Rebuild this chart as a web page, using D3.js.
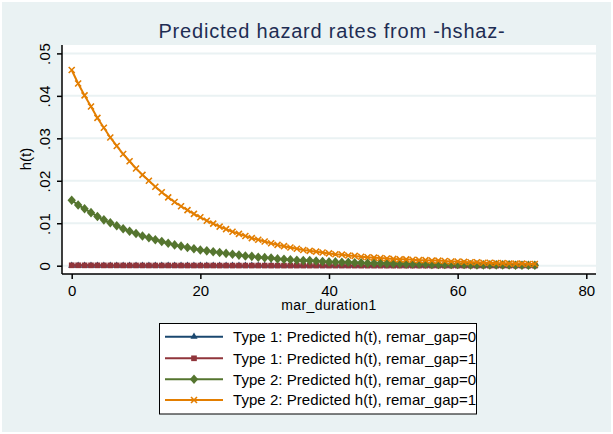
<!DOCTYPE html>
<html><head><meta charset="utf-8">
<script src="https://cdn.jsdelivr.net/npm/d3@7"></script>
<style>html,body{margin:0;padding:0;background:#fff;}svg{display:block;}</style>
</head><body>
<script>
const title = "Predicted hazard rates from -hshaz-";
const xTitle = "mar_duration1";
const yTitle = "h(t)";
const xTicks = [0, 20, 40, 60, 80];
const yTicks = [0, 0.01, 0.02, 0.03, 0.04, 0.05];
const yTickLabels = ["0", ".01", ".02", ".03", ".04", ".05"];
const durations = d3.range(0, 73);
const seriesNames = [
  "Type 1: Predicted h(t), remar_gap=0",
  "Type 1: Predicted h(t), remar_gap=1",
  "Type 2: Predicted h(t), remar_gap=0",
  "Type 2: Predicted h(t), remar_gap=1"
];
const type1Gap0 = [
 .00003,.00003,.00003,.00003,.00003,.00003,.00003,.00003,.00003,.00003,
 .00002,.00002,.00002,.00002,.00002,.00002,.00002,.00002,.00002,.00002,
 .00002,.00002,.00002,.00002,.00002,.00001,.00001,.00001,.00001,.00001,
 .00001,.00001,.00001,.00001,.00001,.00001,.00001,.00001,.00001,.00001,
 .00001,.00001,.00001,.00001,.00001,.00001,.00001,.00001,.00001,.00001,
 .00001,.00001,.00001,.00001,.00001,.00001,.00001,.00001,.00001,.00001,
 .00001,.00001,.00001,.00001,.00001,.00001,.00001,.00001,.00001,.00001,
 .00001,.00001,.00001];
const type1Gap1 = [
 .00009,.00009,.00008,.00008,.00008,.00007,.00007,.00007,.00006,.00006,
 .00006,.00006,.00005,.00005,.00005,.00005,.00005,.00004,.00004,.00004,
 .00004,.00004,.00004,.00003,.00003,.00003,.00003,.00003,.00003,.00003,
 .00003,.00002,.00002,.00002,.00002,.00002,.00002,.00002,.00002,.00002,
 .00002,.00002,.00002,.00002,.00002,.00001,.00001,.00001,.00001,.00001,
 .00001,.00001,.00001,.00001,.00001,.00001,.00001,.00001,.00001,.00001,
 .00001,.00001,.00001,.00001,.00001,.00001,.00001,.00001,.00001,.00001,
 .00001,.00001,.00001];
const type2Gap0 = [
 .0154,.0143,.0134,.0125,.0116,.0108,.0101,.0094,.0087,.0081,
 .0076,.0070,.0066,.0061,.0057,.0053,.0049,.0046,.0043,.0040,
 .0037,.0035,.0033,.0031,.0029,.0027,.0025,.0023,.0022,.0020,
 .0019,.0018,.0016,.0015,.0014,.0013,.0012,.0012,.0011,.0010,
 .0009,.0009,.0008,.0008,.0007,.0007,.0006,.0006,.0006,.0005,
 .0005,.0005,.0004,.0004,.0004,.0004,.0003,.0003,.0003,.0003,
 .0003,.0003,.0002,.0002,.0002,.0002,.0002,.0002,.0002,.0001,
 .0001,.0001,.0001];
const type2Gap1 = [
 .0461,.0429,.0401,.0375,.0348,.0325,.0302,.0282,.0263,.0246,
 .0229,.0214,.0200,.0186,.0173,.0161,.0150,.0140,.0131,.0122,
 .0114,.0106,.0099,.0092,.0086,.0080,.0075,.0070,.0065,.0061,
 .0057,.0053,.0049,.0046,.0043,.0040,.0037,.0035,.0033,.0031,
 .0029,.0027,.0026,.0024,.0023,.0021,.0020,.0019,.0018,.0017,
 .0016,.0015,.0015,.0014,.0013,.0013,.0012,.0012,.0011,.0010,
 .0010,.0009,.0008,.0008,.0007,.0007,.0006,.0006,.0005,.0005,
 .0005,.0004,.0004];
const seriesColors = ["#1A476F", "#90353B", "#55752F", "#E37E00"];
const seriesSymbols = ["triangle", "square", "diamond", "cross"];

const W = 613, H = 434;
const font = "'Liberation Sans', Arial, sans-serif";
const svg = d3.select("body").append("svg").attr("width", W).attr("height", H);
svg.append("rect").attr("width", W).attr("height", H).attr("fill", "#fff");
svg.append("rect").attr("x", 2).attr("y", 2).attr("width", W - 4).attr("height", H - 4).attr("fill", "#EAF2F3");

const plotL = 62, plotR = 596, plotT = 45, plotB = 274;
svg.append("rect").attr("x", plotL).attr("y", plotT).attr("width", plotR - plotL).attr("height", plotB - plotT).attr("fill", "#fff");

const x = d3.scaleLinear().domain([0, 80]).range([71.7, 586.3]);
const y = d3.scaleLinear().domain([0, 0.05]).range([265.7, 53.4]);

// gridlines
svg.append("g").selectAll("line").data(yTicks).join("line")
  .attr("x1", plotL).attr("x2", plotR)
  .attr("y1", d => y(d)).attr("y2", d => y(d))
  .attr("stroke", "#EAF2F3").attr("stroke-width", 2);

// axes
const yAxis = d3.axisLeft(y).tickValues(yTicks).tickFormat((d, i) => yTickLabels[i]).tickSize(5).tickSizeOuter(0);
const gy = svg.append("g").attr("transform", `translate(${plotL},0)`).call(yAxis);
gy.select(".domain").attr("d", `M0,${plotT}V${plotB}`).attr("stroke", "#000").attr("stroke-width", 1.5);
gy.selectAll(".tick line").attr("stroke", "#000").attr("stroke-width", 1.5);
gy.selectAll(".tick text").attr("font-family", font).attr("font-size", 15).attr("fill", "#000")
  .attr("transform", "rotate(-90)").attr("x", 0).attr("y", -12).attr("dy", 0)
  .attr("letter-spacing", 0.5).attr("text-anchor", "middle");

const xAxis = d3.axisBottom(x).tickValues(xTicks).tickFormat(d3.format("d")).tickSize(5).tickSizeOuter(0);
const gx = svg.append("g").attr("transform", `translate(0,${plotB})`).call(xAxis);
gx.select(".domain").attr("d", `M${plotL},0H${plotR}`).attr("stroke", "#000").attr("stroke-width", 1.5);
gx.selectAll(".tick line").attr("stroke", "#000").attr("stroke-width", 1.5);
gx.selectAll(".tick text").attr("font-family", font).attr("font-size", 15).attr("fill", "#000")
  .attr("y", 11).attr("dy", "0.71em");

// titles
svg.append("text").attr("x", 332).attr("y", 38).attr("text-anchor", "middle")
  .attr("font-family", font).attr("font-size", 20).attr("letter-spacing", 0.8)
  .attr("fill", "#1E2D53").text(title);
svg.append("text").attr("x", 329).attr("y", 310).attr("text-anchor", "middle")
  .attr("font-family", font).attr("font-size", 14).attr("letter-spacing", 0.4)
  .attr("fill", "#000").text(xTitle);
svg.append("text").attr("transform", "translate(31,159) rotate(-90)").attr("text-anchor", "middle")
  .attr("font-family", font).attr("font-size", 15).attr("fill", "#000").text(yTitle);

// markers
function marker(g, type, color, cx, cy) {
  if (type === "triangle") {
    g.append("path").attr("d", d3.symbol(d3.symbolTriangle, 22)()).attr("transform", `translate(${cx},${cy})`).attr("fill", color);
  } else if (type === "square") {
    g.append("path").attr("d", d3.symbol(d3.symbolSquare, 32)()).attr("transform", `translate(${cx},${cy})`).attr("fill", color);
  } else if (type === "diamond") {
    g.append("path").attr("d", "M0,-4.8L4.2,0L0,4.8L-4.2,0Z").attr("transform", `translate(${cx},${cy})`).attr("fill", color);
  } else {
    g.append("path").attr("d", "M-3,-3L3,3M-3,3L3,-3").attr("transform", `translate(${cx},${cy})`)
      .attr("stroke", color).attr("stroke-width", 1.6).attr("fill", "none");
  }
}

const allSeries = [type1Gap0, type1Gap1, type2Gap0, type2Gap1];
const line = d3.line().x((d, i) => x(durations[i])).y(d => y(d));
allSeries.forEach((vals, s) => {
  const g = svg.append("g");
  g.append("path").datum(vals).attr("d", line).attr("fill", "none")
    .attr("stroke", seriesColors[s]).attr("stroke-width", 2);
  vals.forEach((v, i) => marker(g, seriesSymbols[s], seriesColors[s], x(durations[i]), y(v)));
});

// legend
const lg = svg.append("g");
lg.append("rect").attr("x", 159.5).attr("y", 323.5).attr("width", 317).attr("height", 90.5)
  .attr("fill", "#fff").attr("stroke", "#000").attr("stroke-width", 1);
const clip = svg.append("clipPath").attr("id", "lgclip");
clip.append("rect").attr("x", 160).attr("y", 324).attr("width", 316).attr("height", 90);
const rowsY = [336.7, 358.3, 379.3, 400];
seriesNames.forEach((name, s) => {
  const cy = rowsY[s];
  lg.append("line").attr("x1", 165).attr("x2", 223).attr("y1", cy).attr("y2", cy)
    .attr("stroke", seriesColors[s]).attr("stroke-width", 2);
  marker(lg, seriesSymbols[s], seriesColors[s], 194, cy);
  lg.append("text").attr("x", 233).attr("y", cy).attr("dy", "0.36em")
    .attr("clip-path", "url(#lgclip)").attr("letter-spacing", 0.05)
    .attr("font-family", font).attr("font-size", 15).attr("fill", "#000").text(name);
});
</script>
</body></html>
